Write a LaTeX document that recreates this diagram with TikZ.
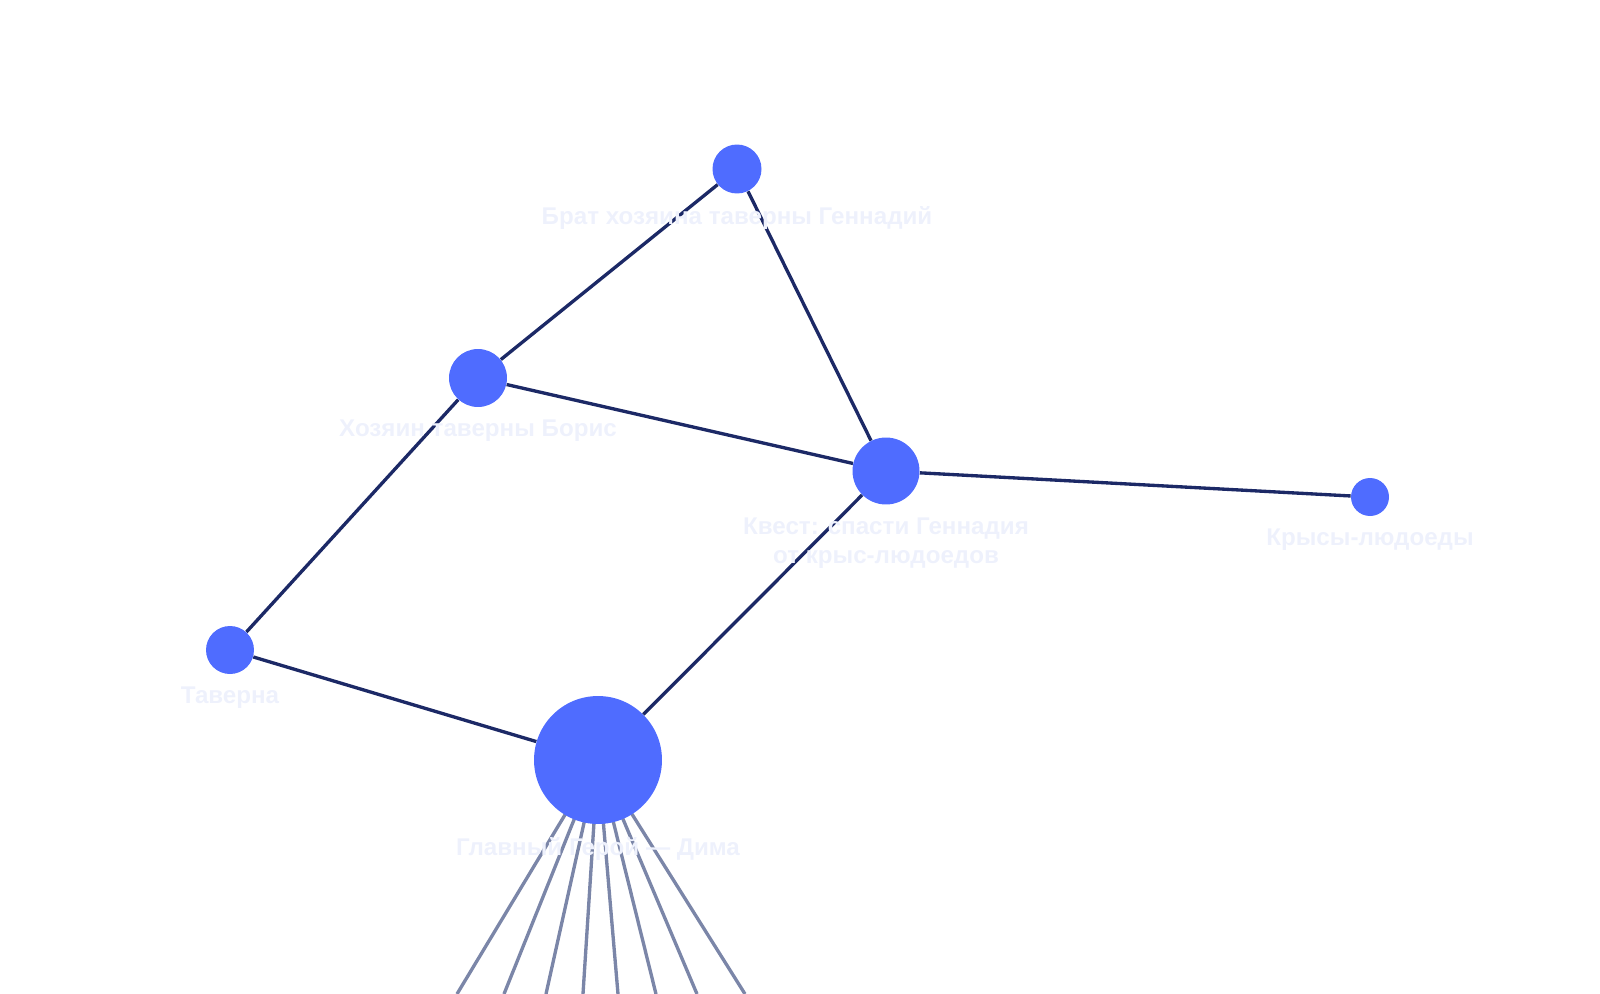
\documentclass[tikz,border=0pt]{standalone}
\usepackage{fontspec}
\setmainfont{Liberation Sans}
\usepackage{xcolor}
\usetikzlibrary{positioning,backgrounds}
\definecolor{dotfill}{HTML}{4F6CFF}
\definecolor{linkdark}{HTML}{1C2966}
\definecolor{linkgrey}{HTML}{7B86A8}
\definecolor{lbltext}{HTML}{EEF1FC}

\begin{document}
\begin{tikzpicture}[x=0.02cm,y=-0.02cm,
  dot/.style={circle,fill=dotfill,inner sep=0pt},
  link/.style={draw=linkdark,line width=1.9pt},
  spoke/.style={draw=linkgrey,line width=1.9pt},
  lbl/.style={text=lbltext,font=\fontsize{13.75pt}{16.8pt}\selectfont\bfseries,inner sep=0pt,align=center}]
\useasboundingbox (0,0) rectangle (1600,994);

% story points
\node[dot,minimum size=0.98cm] (brat) at (737,169) {};
\node[dot,minimum size=1.16cm] (boris) at (478,378) {};
\node[dot,minimum size=1.34cm] (quest) at (886,471) {};
\node[dot,minimum size=0.76cm] (rats) at (1370,497) {};
\node[dot,minimum size=0.96cm] (tavern) at (230,650) {};
\node[dot,minimum size=2.56cm] (hero) at (598,760) {};

% names
\node[lbl,below=0.25cm of brat] (bratlbl) {Брат хозяина таверны Геннадий};
\node[lbl,below=0.25cm of boris] (borislbl) {Хозяин таверны Борис};
\node[lbl,below=0.25cm of quest] (questlbl) {Квест: спасти Геннадия\\от крыс-людоедов};
\node[lbl,below=0.25cm of rats] (ratslbl) {Крысы-людоеды};
\node[lbl,below=0.25cm of tavern] (tavernlbl) {Таверна};
\node[lbl,below=0.25cm of hero] (herolbl) {Главный Герой — Дима};

% links
\begin{scope}[on background layer]
\draw[link] (brat) -- (boris);
\draw[link] (brat) -- (quest);
\draw[link] (boris) -- (quest);
\draw[link] (boris) -- (tavern);
\draw[link] (tavern) -- (hero);
\draw[link] (hero) -- (quest);
\draw[link] (quest) -- (rats);
\foreach \xe [count=\i] in {457,504,546,583,618,656,697,745} {
  \coordinate (off\i) at (\xe,994);
  \draw[spoke] (hero.center) -- (off\i);
}
\end{scope}
\end{tikzpicture}
\end{document}
